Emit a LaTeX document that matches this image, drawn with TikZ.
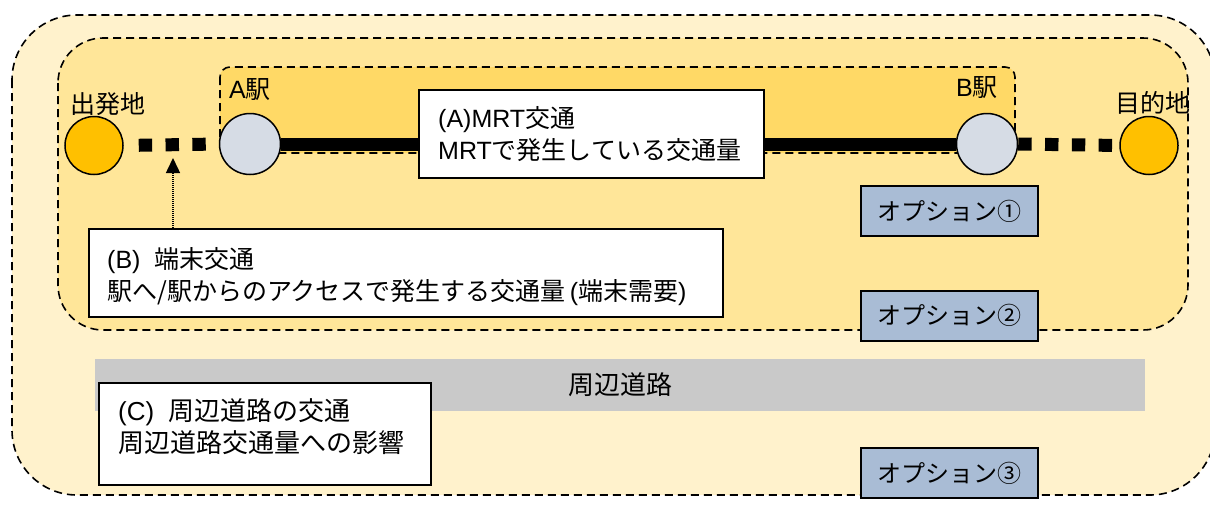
\documentclass[tikz,border=0pt]{standalone}
\usepackage{fontspec}
\setmainfont{Noto Sans CJK JP}
\newfontfamily\lat{Liberation Sans}
\usetikzlibrary{arrows.meta}
\definecolor{outerfill}{HTML}{FFF2CC}
\definecolor{midfill}{HTML}{FFE699}
\definecolor{innerfill}{HTML}{FFD966}
\definecolor{origfill}{HTML}{FFC000}
\definecolor{stationfill}{HTML}{D6DCE5}
\definecolor{optfill}{HTML}{A9BCD5}
\definecolor{roadfill}{HTML}{C9C9C9}
\pgfdeclarelayer{bg}
\pgfdeclarelayer{conn}
\pgfsetlayers{bg,conn,main}
\begin{document}
\begin{tikzpicture}[x=1pt,y=-1pt,
  font=\fontsize{25}{32}\selectfont,
  zone/.style={draw=black, line width=1.6pt, dash pattern=on 8pt off 5pt},
  box/.style={draw=black, line width=2pt, fill=white, inner sep=0pt, anchor=north west},
  txt/.style={anchor=north west, inner sep=0pt, align=left},
  endpt/.style={circle, draw=black, line width=1.5pt, fill=origfill, minimum size=58pt, inner sep=0pt},
  station/.style={circle, draw=black, line width=1.5pt, fill=stationfill, minimum size=61pt, inner sep=0pt},
  optbox/.style={draw=black, line width=2pt, fill=optfill, minimum width=177pt, minimum height=50pt, inner sep=0pt, font=\fontsize{24}{30}\selectfont},
  lbl/.style={inner sep=0pt},
  mrtline/.style={line width=13pt},
  accessline/.style={line width=13pt, dash pattern=on 13.4pt off 13.4pt},
  pointer/.style={line width=1.5pt, dash pattern=on 1.2pt off 0.8pt, -{Triangle[length=15pt,width=14pt]}}
]
\useasboundingbox (0,0) rectangle (1210,504);
\clip (0,0) rectangle (1210,504);

\begin{pgfonlayer}{bg}
  \draw[zone, fill=outerfill, rounded corners=65pt] (12,15) rectangle (1215,495);
  \draw[zone, fill=midfill, rounded corners=45pt] (58,38) rectangle (1188,330);
  \draw[zone, fill=innerfill, rounded corners=10pt] (220,67) rectangle (1015,153);
\end{pgfonlayer}

% road bar
\node[fill=roadfill, minimum width=1050pt, minimum height=52pt, inner sep=0pt, font=\fontsize{26}{32}\selectfont] (road) at (620,385) {周辺道路};

% endpoints and stations
\node[endpt] (orig) at (94,145.5) {};
\node[station] (sa) at (250,144) {};
\node[station] (sb) at (987,144) {};
\node[endpt] (dest) at (1149,145.5) {};

\node[lbl] (origlbl) at (108,104) {出発地};
\node[lbl] (salbl) at (250,90) {{\lat A}駅};
\node[lbl] (sblbl) at (977,88) {{\lat B}駅};
\node[lbl] (destlbl) at (1153,103) {目的地};

% text boxes
\node[box, minimum width=345pt, minimum height=88pt] (abox) at (418,89) {};
\node[txt] (atext) at (438,106) {{\lat (A)MRT}交通\\{\lat MRT}で発生している交通量};

\node[box, minimum width=634pt, minimum height=88pt] (bbox) at (88,228) {};
\node[txt] (btext) at (107,247) {{\lat (B)\ \ }端末交通\\駅へ/駅からのアクセスで発生する交通量{\lat\,(}端末需要{\lat )}};

\node[box, minimum width=332pt, minimum height=102pt] (cbox) at (98,382) {};
\node[txt, font=\fontsize{26}{32}\selectfont] (ctext) at (118,398) {{\lat (C)\ \ }周辺道路の交通\\周辺道路交通量への影響};

% options
\node[optbox] (opt1) at (949.5,211) {オプション①};
\node[optbox] (opt2) at (949.5,315.5) {オプション②};
\node[optbox] (opt3) at (949.5,473) {オプション③};

% connectors
\coordinate (tip) at (173,158);
\begin{pgfonlayer}{conn}
  \draw[mrtline] (sa) -- (sb);
  \draw[accessline, shorten <=15pt] (orig.east) -- (sa.west);
  \draw[accessline] (sb.east) -- (dest.west);
  \draw[pointer] (tip |- bbox.north) -- (tip);
\end{pgfonlayer}
\end{tikzpicture}
\end{document}
